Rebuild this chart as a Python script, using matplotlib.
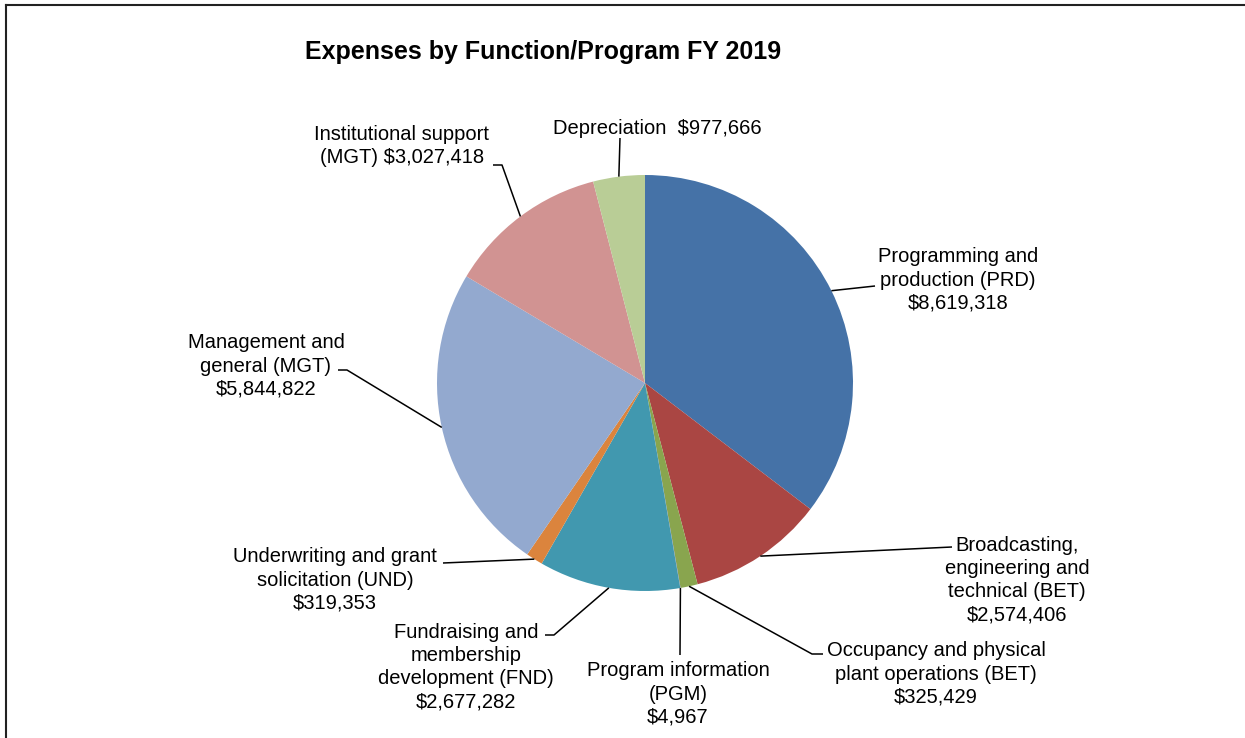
import numpy as np
import matplotlib
matplotlib.use("Agg")
import matplotlib.pyplot as plt

# ---- data ----
categories = [
    "Programming and\nproduction (PRD)",
    "Broadcasting,\nengineering and\ntechnical (BET)",
    "Occupancy and physical\nplant operations (BET)",
    "Program information\n(PGM)",
    "Fundraising and\nmembership\ndevelopment (FND)",
    "Underwriting and grant\nsolicitation (UND)",
    "Management and\ngeneral (MGT)",
    "Institutional support\n(MGT)",
    "Depreciation",
]
values = [8619318, 2574406, 325429, 4967, 2677282, 319353, 5844822, 3027418, 977666]
colors = ["#4572A7", "#AA4643", "#89A54E", "#80699B", "#4198AF",
          "#DB843D", "#93A9CF", "#D19392", "#B9CD96"]
value_labels = ["${:,}".format(v) for v in values]
label_sep = ["\n", "\n", "\n", "\n", "\n", "\n", "\n", " ", "  "]

# ---- layout (pixel coordinates, y measured from top) ----
W, H = 1245, 738
CX, CY, R = 645, 383, 208
label_pos = [(958, 280), (1017, 580), (936, 674), (678, 694), (466, 667),
             (335, 580), (266, 366), (402, 146), (657, 128)]
# elbow points of the leader lines (pixel)
elbows = [
    [(875, 286)],
    [(952, 547)],
    [(812, 654), (823, 654)],
    [(680, 655)],
    [(554, 635), (545, 635)],
    [(443, 563)],
    [(347, 370), (338, 370)],
    [(502, 165), (493, 165)],
    [(620, 138)],
]

FONT = "Liberation Sans"
fig = plt.figure(figsize=(W / 100, H / 100), dpi=100)
ax = fig.add_axes([0, 0, 1, 1])

def Y(yp):
    return H - yp

wedges, _ = ax.pie(values, colors=colors, startangle=90, counterclock=False,
                   radius=R, center=(CX, Y(CY)),
                   wedgeprops=dict(linewidth=0), frame=True)
ax.set_xlim(0, W)
ax.set_ylim(0, H)
ax.axis("off")

for i, w in enumerate(wedges):
    ang = np.deg2rad((w.theta1 + w.theta2) / 2.0)
    x0 = CX + R * np.cos(ang)
    y0 = Y(CY) + R * np.sin(ang)
    xs = [x0] + [p[0] for p in elbows[i]]
    ys = [y0] + [Y(p[1]) for p in elbows[i]]
    ax.plot(xs, ys, color="black", lw=1.1, solid_capstyle="butt")
    lx, ly = label_pos[i]
    ax.text(lx, Y(ly), categories[i] + label_sep[i] + value_labels[i],
            ha="center", va="center", multialignment="center",
            fontsize=14.5, family=FONT, color="#000000", linespacing=1.28)

ax.text(543, Y(52), "Expenses by Function/Program FY 2019", ha="center",
        va="center", fontsize=18, fontweight="bold", family=FONT, color="black")

# border of chart area (left and top visible)
ax.plot([6, 6], [Y(5), Y(740)], color="#222222", lw=1.5, clip_on=False)
ax.plot([6, 1244], [Y(5), Y(5)], color="#222222", lw=1.5, clip_on=False)

fig.savefig("out.png", dpi=100)
